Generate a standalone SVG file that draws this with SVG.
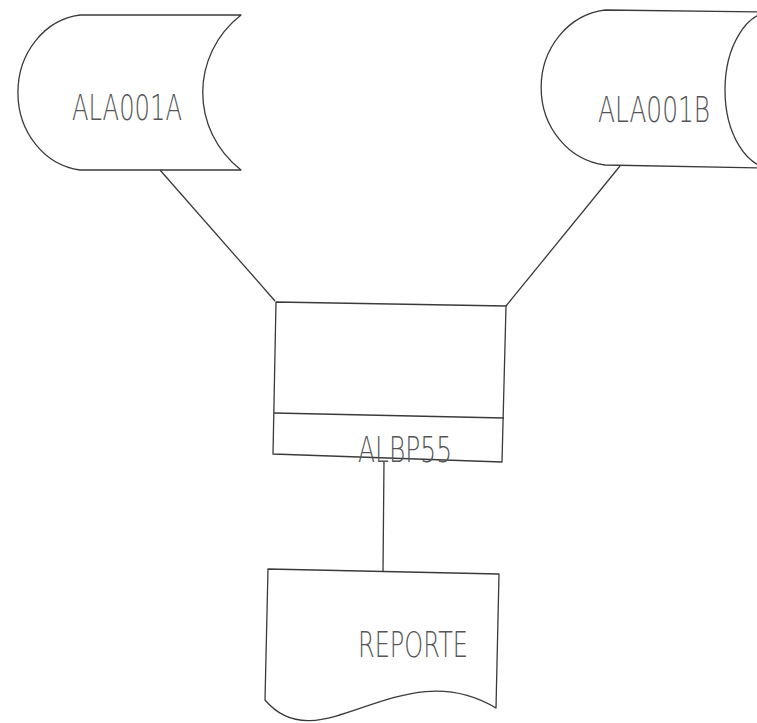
<svg xmlns="http://www.w3.org/2000/svg" width="757" height="723" viewBox="0 0 757 723">
<style>
.s{fill:none;stroke:#3a3a3a;stroke-width:1.3;stroke-linejoin:round}
.t{font-family:"DejaVu Sans","Liberation Sans",sans-serif;font-weight:200;fill:#555;font-size:36px}
</style>
<rect width="757" height="723" fill="#fff"/>
<g id="connectors" class="s">
<line x1="160" y1="170" x2="275" y2="301"/>
<line x1="620" y1="166" x2="506" y2="306"/>
<line x1="384" y1="461" x2="383" y2="572"/>
</g>
<g id="ALA001A">
<path class="s" d="M241 15 L80 15 A70 78 0 0 0 80 170 L241 170 C190 130 190 55 241 15 Z"/>
<text class="t" x="72" y="120" textLength="110" lengthAdjust="spacingAndGlyphs">ALA001A</text>
</g>
<g id="ALA001B">
<path class="s" d="M760 12 L605 10 A72 78 0 0 0 605 165 L760 168"/>
<ellipse class="s" cx="772" cy="90" rx="47" ry="78"/>
<text class="t" x="598" y="122" textLength="112" lengthAdjust="spacingAndGlyphs" font-size="37">ALA001B</text>
</g>
<g id="ALBP55">
<path class="s" d="M276 302 L506 306 L502 462 L273 454 Z"/>
<line class="s" x1="274" y1="413" x2="504" y2="418"/>
<text class="t" x="358" y="462" textLength="94" lengthAdjust="spacingAndGlyphs" font-size="39">ALBP55</text>
</g>
<g id="REPORTE">
<path class="s" d="M268 569 L499 574 L496 708 C400 650 320 765 265 700 Z"/>
<text class="t" x="358" y="657" textLength="110" lengthAdjust="spacingAndGlyphs" font-size="41">REPORTE</text>
</g>
</svg>
